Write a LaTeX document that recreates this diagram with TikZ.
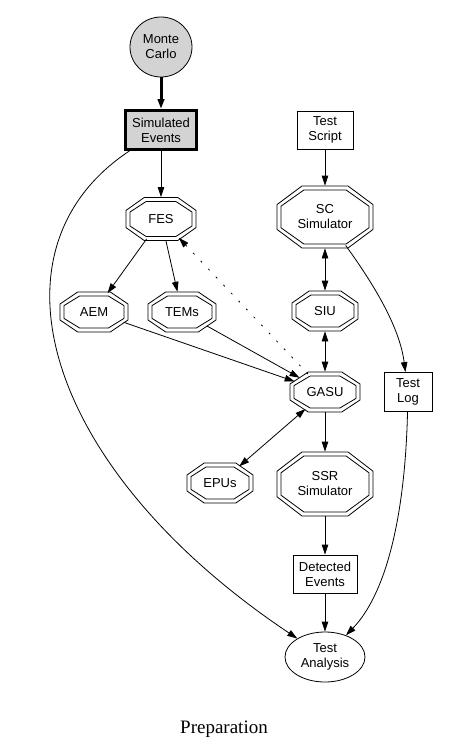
\documentclass[tikz,border=0pt]{standalone}
\usepackage{fontspec}
\setmainfont{Liberation Sans}
\newfontfamily\capfont{Liberation Serif}
\usepackage{tikz}
\usetikzlibrary{arrows.meta,shapes.geometric}
\definecolor{nodegray}{HTML}{D3D3D3}
\newcommand{\octnode}[6]{% name, x, y, width, height, label
  \node[oct,minimum width=#4pt,minimum height=#5pt] (#1) at (#2,#3) {#6};
  \begin{scope}[shift={(#2,#3)}]
    \foreach \g in {0,8}{
      \pgfmathsetmacro\a{(#4-\g)/2}
      \pgfmathsetmacro\b{(#5-\g)/2}
      \draw (-\a,{0.4*\b}) -- ({-0.48*\a},\b) -- ({0.48*\a},\b) -- (\a,{0.4*\b})
        -- (\a,{-0.4*\b}) -- ({0.48*\a},-\b) -- ({-0.48*\a},-\b) -- (-\a,{-0.4*\b}) -- cycle;
    }
  \end{scope}
}
\tikzset{
  lbl/.style={font=\fontsize{13}{15}\selectfont,align=center},
  oct/.style={lbl,ellipse,inner sep=0pt},
  rbox/.style={lbl,draw,rectangle,inner sep=0pt},
  oval/.style={lbl,draw,ellipse,inner sep=0pt},
  arr/.style={-{Triangle[length=10pt,width=6.5pt]}},
  darr/.style={{Triangle[length=10pt,width=6.5pt]}-{Triangle[length=10pt,width=6.5pt]}},
}

\begin{document}
\begin{tikzpicture}[x=1pt,y=-1pt,line width=0.8pt]
\useasboundingbox (0,0) rectangle (448,752);

% left column
\node[oval,fill=nodegray,minimum width=62pt,minimum height=60pt] (mc) at (161,47) {Monte\\Carlo};
\node[rbox,fill=nodegray,line width=3pt,minimum width=71pt,minimum height=39pt] (sim) at (161,130) {Simulated\\Events};
\octnode{fes}{161}{219}{70}{43}{FES}
\octnode{aem}{94}{312}{68}{40}{AEM}
\octnode{tems}{182}{312}{68}{40}{TEMs}
\octnode{epus}{220}{483}{66}{40}{EPUs}

% right column
\node[rbox,minimum width=56pt,minimum height=38pt] (ts) at (325,130) {Test\\Script};
\octnode{sc}{325}{217}{96}{62}{SC\\Simulator}
\octnode{siu}{325}{311}{66}{40}{SIU}
\octnode{gasu}{325}{392}{70}{40}{GASU}
\node[rbox,minimum width=48pt,minimum height=39pt] (tl) at (408,392) {Test\\Log};
\octnode{ssr}{325}{484}{96}{64}{SSR\\Simulator}
\node[rbox,minimum width=64pt,minimum height=38pt] (de) at (325,574) {Detected\\Events};
\node[oval,minimum width=80pt,minimum height=50pt] (ta) at (325,657) {Test\\Analysis};

% edges
\draw[arr,line width=3pt] (mc) -- (sim);
\draw[arr] (sim) -- (fes);
\draw[arr] (sim) .. controls (-20,250) and (45,470) .. (ta);
\draw[arr] (fes) -- (aem);
\draw[arr] (fes) -- (tems);
\draw[arr,dash pattern=on 2pt off 9pt] (gasu) -- (fes);
\draw[arr] (aem) -- (gasu);
\draw[arr] (tems) -- (gasu);
\draw[arr] (ts) -- (sc);
\draw[darr] (sc) -- (siu);
\draw[darr] (siu) -- (gasu);
\draw[arr] (sc) .. controls (378,290) and (400,330) .. (tl);
\draw[darr] (gasu) -- (epus);
\draw[arr] (gasu) -- (ssr);
\draw[arr] (ssr) -- (de);
\draw[arr] (de) -- (ta);
\draw[arr] (tl) .. controls (405,520) and (385,595) .. (ta);

\node[font=\capfont\fontsize{19}{22}\selectfont] (cap) at (224,729) {Preparation};
\end{tikzpicture}
\end{document}
